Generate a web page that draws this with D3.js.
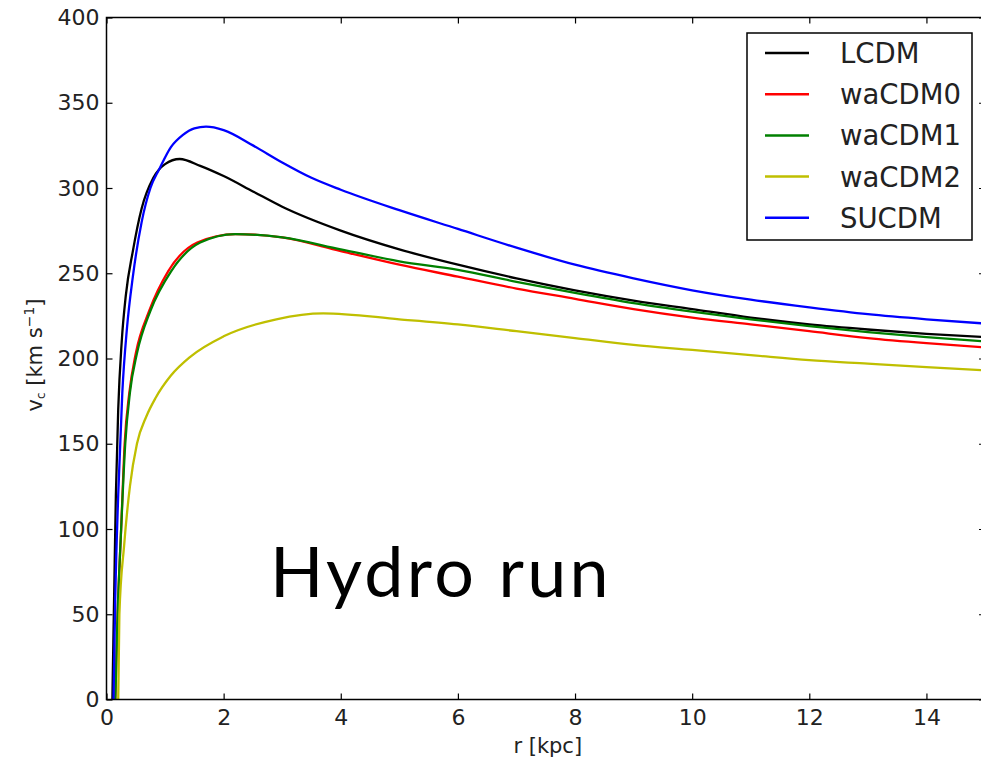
<!DOCTYPE html>
<html>
<head>
<meta charset="utf-8">
<script src="https://cdn.jsdelivr.net/npm/d3@7"></script>
<style>
  body { margin: 0; background: #fff; }
  svg text { font-family: "DejaVu Sans", sans-serif; }
</style>
</head>
<body>
<div id="chart"></div>
<script>
// series names and colours (legend order)
const seriesNames = ["LCDM", "waCDM0", "waCDM1", "waCDM2", "SUCDM"];
const seriesColours = ["#000000", "#ff0000", "#008000", "#bfbf00", "#0000ff"];

// rotation curves, [r (kpc), v_c (km/s)]
const lcdm = [[0.1, 0], [0.13, 60], [0.16, 120], [0.2, 170], [0.26, 210], [0.33, 237], [0.45, 263],
  [0.6, 288], [0.8, 306], [1.0, 314], [1.25, 317], [1.6, 313], [2, 307], [2.5, 298], [3, 289], [4, 275],
  [5, 264], [6, 255], [7, 247], [8, 240], [9, 234], [10, 229], [11, 224], [12, 220], [13, 217], [14, 214.5], [15, 212.5]];
const wacdm0 = [[0.15, 0], [0.19, 50], [0.25, 100], [0.31, 150], [0.39, 180], [0.5, 203], [0.73, 228],
  [1.05, 251], [1.55, 268], [2.2, 273], [3, 271], [4, 263], [5, 255], [6, 248], [7, 241], [8, 235], [9, 229],
  [10, 224], [11, 220], [12, 216], [13, 212], [14, 209], [15, 206.5]];
const wacdm1 = [[0.15, 0], [0.19, 50], [0.25, 100], [0.32, 150], [0.4, 180], [0.52, 203], [0.75, 228],
  [1.1, 251], [1.6, 268], [2.2, 273], [3, 271], [4, 264], [5, 257], [6, 252], [7, 245], [8, 238.5], [9, 232.5],
  [10, 227.5], [11, 223], [12, 219], [13, 215.5], [14, 212.5], [15, 210]];
const wacdm2 = [[0.2, 0], [0.22, 50], [0.3, 90], [0.4, 125], [0.52, 150], [0.68, 166], [0.84, 177],
  [1.1, 190], [1.43, 201], [2, 213], [2.9, 223], [3.7, 226.5], [5, 223], [6, 220], [7, 216], [8, 212],
  [9, 208], [10, 205], [11, 202], [12, 199], [13, 197], [14, 195], [15, 193]];
const sucdm = [[0.12, 0], [0.15, 60], [0.2, 120], [0.27, 180], [0.35, 218], [0.45, 248], [0.6, 280],
  [0.75, 300], [0.9, 311], [1.1, 324], [1.3, 331], [1.5, 335], [1.7, 336], [2.0, 334], [2.5, 325], [3, 315],
  [3.5, 306], [4, 299], [5, 287], [6, 276], [7, 265], [8, 255], [9, 247], [10, 240], [11, 234.5], [12, 230],
  [13, 226], [14, 223], [15, 220.5]];

const seriesData = [lcdm, wacdm0, wacdm1, wacdm2, sucdm];

// axis ticks
const xTickValues = [0, 2, 4, 6, 8, 10, 12, 14];
const yTickValues = [0, 50, 100, 150, 200, 250, 300, 350, 400];

class RotationCurves {
  constructor(_config, _series) {
    this.config = {
      parentElement: _config.parentElement,
      containerWidth: _config.containerWidth,
      containerHeight: _config.containerHeight,
      margin: { top: 17.5, right: -4, bottom: 60.5, left: 106.5 },
    };
    this.series = _series;
    this.initVis();
  }

  initVis() {
    let vis = this;

    vis.width = vis.config.containerWidth - vis.config.margin.left - vis.config.margin.right;
    vis.height = vis.config.containerHeight - vis.config.margin.top - vis.config.margin.bottom;

    vis.xScale = d3.scaleLinear().domain([0, 15]).range([0, vis.width]);
    vis.yScale = d3.scaleLinear().domain([0, 400]).range([vis.height, 0]);

    vis.svg = d3.select(vis.config.parentElement)
      .append("svg")
      .attr("width", vis.config.containerWidth)
      .attr("height", vis.config.containerHeight);

    vis.chart = vis.svg.append("g")
      .attr("transform", `translate(${vis.config.margin.left},${vis.config.margin.top})`);

    vis.chart.append("clipPath")
      .attr("id", "plot-clip")
      .append("rect")
      .attr("width", vis.width)
      .attr("height", vis.height);

    vis.line = d3.line()
      .x(d => vis.xScale(d[0]))
      .y(d => vis.yScale(d[1]))
      .curve(d3.curveMonotoneX);

    vis.renderVis();
  }

  renderVis() {
    let vis = this;

    // curves
    vis.chart.append("g")
      .attr("clip-path", "url(#plot-clip)")
      .selectAll(".curve")
      .data(vis.series)
      .join("path")
      .attr("class", "curve")
      .attr("fill", "none")
      .attr("stroke", d => d.colour)
      .attr("stroke-width", 2.3)
      .attr("stroke-linejoin", "round")
      .attr("d", d => vis.line(d.values));

    // axes, ticks pointing inwards
    const tickLen = 6;
    const xBottom = d3.axisBottom(vis.xScale).tickValues(xTickValues).tickSize(-tickLen).tickPadding(10);
    const yLeft = d3.axisLeft(vis.yScale).tickValues(yTickValues).tickSize(-tickLen).tickPadding(7);
    const xTop = d3.axisTop(vis.xScale).tickValues(xTickValues).tickSize(-tickLen).tickFormat("");
    const yRight = d3.axisRight(vis.yScale).tickValues(yTickValues).tickSize(-tickLen).tickFormat("");

    const styleAxis = g => {
      g.select(".domain").remove();
      g.selectAll(".tick line").attr("stroke", "#000").attr("stroke-width", 1.2);
      g.selectAll(".tick text").attr("fill", "#222").style("font-size", "22px");
    };

    vis.chart.append("g").attr("transform", `translate(0,${vis.height})`).call(xBottom).call(styleAxis);
    vis.chart.append("g").call(yLeft).call(styleAxis);
    vis.chart.append("g").call(xTop).call(styleAxis);
    vis.chart.append("g").attr("transform", `translate(${vis.width},0)`).call(yRight).call(styleAxis);

    // frame
    vis.chart.append("rect")
      .attr("width", vis.width)
      .attr("height", vis.height)
      .attr("fill", "none")
      .attr("stroke", "#000")
      .attr("stroke-width", 1.5);

    // axis labels
    vis.chart.append("text")
      .attr("x", vis.width / 2 + 2)
      .attr("y", vis.height + 53)
      .attr("text-anchor", "middle")
      .attr("fill", "#222")
      .style("font-size", "21px")
      .text("r [kpc]");

    const yLabel = vis.svg.append("text")
      .attr("transform", "translate(42,355) rotate(-90)")
      .attr("text-anchor", "middle")
      .attr("fill", "#222")
      .style("font-size", "21px");
    yLabel.append("tspan").text("v");
    yLabel.append("tspan").attr("baseline-shift", "-25%").style("font-size", "12px").text("c");
    yLabel.append("tspan").text(" [km s");
    yLabel.append("tspan").attr("baseline-shift", "super").style("font-size", "14px").text("\u22121");
    yLabel.append("tspan").text("]");

    // legend
    const legend = vis.svg.append("g").attr("transform", "translate(747,33)");
    legend.append("rect")
      .attr("width", 225)
      .attr("height", 207)
      .attr("fill", "#fff")
      .attr("stroke", "#000")
      .attr("stroke-width", 1.5);

    const items = legend.selectAll(".legend-item")
      .data(vis.series)
      .join("g")
      .attr("class", "legend-item")
      .attr("transform", (d, i) => `translate(0,${20 + i * 41.2})`);

    items.append("line")
      .attr("x1", 18).attr("x2", 62)
      .attr("stroke", d => d.colour)
      .attr("stroke-width", 2.5);

    items.append("text")
      .attr("x", 93)
      .attr("y", 10)
      .attr("fill", "#222")
      .style("font-size", "27.5px")
      .text(d => d.name);

    // annotation
    vis.svg.append("text")
      .attr("x", 270)
      .attr("y", 597)
      .attr("fill", "#000")
      .style("font-family", "Lato, sans-serif")
      .style("font-size", "70px")
      .style("letter-spacing", "3.3px")
      .text("Hydro run");
  }
}

const series = seriesNames.map((name, i) => ({ name, colour: seriesColours[i], values: seriesData[i] }));

new RotationCurves({
  parentElement: "#chart",
  containerWidth: 981,
  containerHeight: 760,
}, series);
</script>
</body>
</html>
